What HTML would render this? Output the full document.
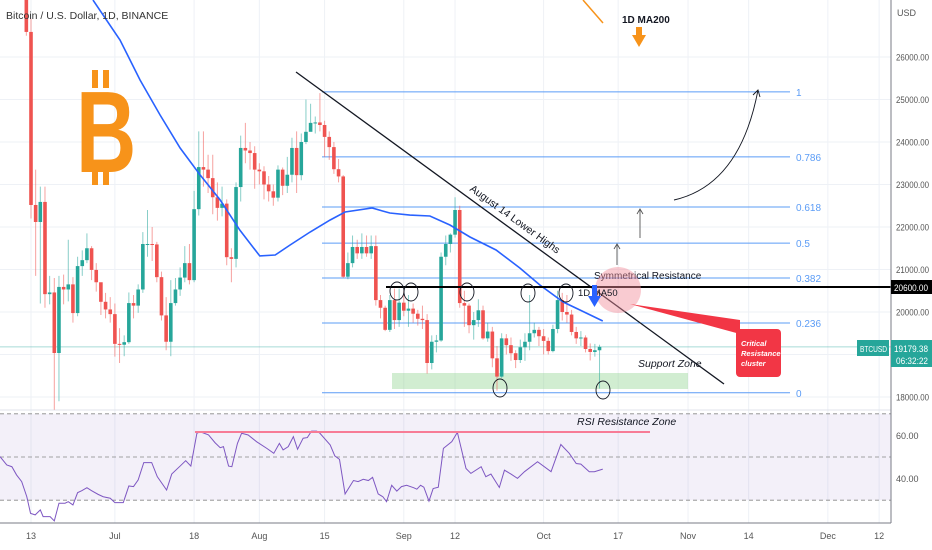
<!DOCTYPE html>
<html><head><meta charset="utf-8"><style>
html,body{margin:0;padding:0;background:#fff;}
body{position:relative;width:932px;height:550px;overflow:hidden}
svg{display:block;font-family:"Liberation Sans",sans-serif;}
</style></head><body>
<svg id="chart" width="932" height="550" viewBox="0 0 932 550"></svg>
<script>
// ---- data ----
const startDay = -1; // index of first candle relative to Jun 13
const firstOpen = 28400;
const closes = [26590,22518,22118,22590,20420,20460,19035,20590,20530,20650,19975,21080,21220,21500,20990,20700,20240,20060,19950,19250,19230,19290,20210,20150,20530,21600,21600,21590,20820,19920,19300,20210,20530,20810,21150,20750,22420,23410,23350,23150,22700,22450,22550,21290,21250,22940,23860,23800,23740,23350,23310,23000,22840,22690,23350,22970,23230,23860,23220,24000,24240,24450,24460,24400,24120,23880,23360,23190,20830,21150,21530,21380,21530,21380,21550,20280,20100,19580,20280,19810,20220,20030,20080,19960,19840,19810,18800,19300,19330,21300,21600,21820,22400,20210,20150,19690,19810,20040,19380,19540,18910,18480,19380,19220,19030,18870,19170,19300,19500,19580,19430,19320,19080,19600,20280,20000,19940,19530,19380,19400,19130,19060,19100,19179];
const highs = [28600,26900,23350,22950,22950,20850,20800,20850,20880,21700,20820,21300,21450,21850,21550,21150,20450,20450,20350,20200,19620,19450,20460,20400,20650,21880,22400,22000,21650,20950,20350,20750,20800,21050,21550,21600,22850,24250,24250,23700,23700,23050,22950,22650,21500,23050,24150,24450,24000,23900,23500,23430,23200,23000,23450,23400,23650,24100,24250,24200,25000,24900,24600,25150,24500,24250,24000,23600,23220,21400,21800,21700,21850,21800,21800,21800,20400,20150,20400,20550,20550,20500,20400,20200,20050,20150,19950,19450,19460,21400,21800,21850,22700,22500,20500,20200,20000,20300,20150,19750,19650,19200,19500,19480,19400,19100,19350,19500,20400,19750,19650,19600,19400,19700,20500,20450,20400,20050,19650,19550,19450,19260,19250,19230];
const lows = [26500,22200,20850,20200,20100,20180,17700,17900,20180,20250,19750,19900,20850,21150,20750,20480,19930,19850,19750,18950,18800,18960,19250,19850,19980,20450,21300,21200,20700,19800,19100,18960,20150,20380,20700,20650,20700,22270,22950,22800,22300,22150,22250,21100,20700,21050,22600,23500,23350,22900,23000,22650,22600,22500,22600,22750,22800,23050,22800,23100,23950,24300,24200,24250,23650,23580,23250,23050,20800,20770,21050,21250,21250,21300,21250,20150,19850,19550,19530,19600,19650,19900,19650,19750,19680,19600,18550,18650,19050,19300,21100,21400,21750,20100,19650,19500,19350,19650,19350,19300,18700,18150,18450,19000,18850,18680,18800,18850,19100,19400,19200,19000,19000,19050,19500,19800,19750,19450,19250,19200,19050,18860,18950,18200];
const maDays = [13.3,19.1,23.4,27.7,32.0,36.3,40.6,44.8,49.1,52.4,55.6,59.9,64.2,67.4,73.2,77.0,81.3,85.6,89.9,94.2,99.8,104.9,109.2,114.2,117.8,122.7];
const maValues = [27341,26400,25459,24635,23859,23224,22635,21929,21318,21341,21576,21882,22165,22353,22447,22329,22282,22259,22047,21765,21459,21035,20635,20235,20047,19788];
const rsiDays = [-6.65,-5.2,-4.1,-3.1,-2.0,-0.9,-0.1,0.9,2.0,2.6,4.1,5.0,6.0,7.3,8.0,9.0,10.0,10.9,12.0,13.0,14.4,15.5,17.0,18.0,19.8,21.0,22.0,23.0,24.2,25.9,27.1,29.1,30.2,32.0,33.2,34.3,35.6,36.3,38.1,39.5,40.6,41.3,42.4,43.1,44.3,45.2,46.6,48.4,50.6,52.1,53.3,54.1,55.2,56.3,57.2,58.4,59.3,60.2,61.3,62.0,64.2,65.2,66.2,67.4,69.2,70.2,71.3,72.4,73.3,74.5,75.5,76.3,77.4,78.5,79.5,80.6,82.1,82.8,83.6,84.3,85.4,86.3,87.4,88.5,90.3,91.5,93.35,94.4,96.6,97.6,98.7,100.5,101.6,103.0,104.4,105.9,108.7,111.6,113.7,115.5,117.0,118.0,119.8,120.9,122.7];
const rsiValues = [50.2,46.3,45.5,41.7,38.6,31.6,23.9,23.2,25.5,22.4,22.4,20.4,28.6,28.6,29.3,27.8,33.5,34.4,35.8,34.4,32.7,31.6,30.9,28.9,28.9,36.6,36.3,39.4,47.4,47.4,40.9,34.7,42.1,45.8,48.3,45.8,61.0,61.7,60.2,56.6,54.3,54.8,45.8,45.5,56.3,61.0,60.2,57.1,54.0,51.7,56.3,53.3,54.8,59.4,53.6,58.7,59.0,62.0,62.0,61.0,55.6,50.5,48.9,32.9,39.1,38.6,39.7,39.1,40.6,32.9,31.6,29.3,36.9,34.2,36.3,36.9,35.8,35.1,36.9,36.0,29.6,35.4,36.0,54.0,57.1,61.4,44.7,42.4,45.5,40.9,42.1,35.9,43.9,42.1,40.1,43.2,47.8,43.2,55.8,51.7,47.0,46.7,43.2,43.2,44.4];
const priceTicks = [26000,25000,24000,23000,22000,21000,20000,18000];
const rsiTicks = [60,40];
const timeLabels = ["13","Jul","18","Aug","15","Sep","12","Oct","17","Nov","14","Dec","12"];
const timeDays = [0,18,35,49,63,80,91,110,126,141,154,171,182];
const fibLabels = ["1","0.786","0.618","0.5","0.382","0.236","0"];
const fibPrices = [25180,23650,22470,21620,20800,19740,18100];

// ---- axes ----
const xOf = d => 31 + d*4.66;
const yOf = p => 312 - (p-20000)*0.0425;
const yR = r => 457 - (r-50)*2.16;
const NS='http://www.w3.org/2000/svg';
const svg=document.getElementById('chart');
function mk(tag, attrs, parent){const e=document.createElementNS(NS,tag);for(const k in attrs)e.setAttribute(k,attrs[k]);(parent||svg).appendChild(e);return e;}
function txt(s,attrs,parent){const e=mk('text',attrs,parent);e.textContent=s;return e;}

const grid=mk('g',{});


timeDays.forEach(d=>mk('line',{x1:xOf(d),x2:xOf(d),y1:0,y2:523,stroke:'#eef1f6','stroke-width':1},grid));
[26000,25000,24000,23000,22000,21000,20000,19000,18000].forEach(p=>mk('line',{x1:0,x2:891,y1:yOf(p),y2:yOf(p),stroke:'#eef1f6'},grid));
mk('line',{x1:0,x2:891,y1:410,y2:410,stroke:'#e0e3eb'},grid);

const rp=mk('rect',{x:0,y:yR(70),width:891,height:yR(30)-yR(70),fill:'#7e57c2','fill-opacity':0.09});


[70,50,30].forEach(r=>mk('line',{x1:0,x2:891,y1:yR(r),y2:yR(r),stroke:'#888','stroke-dasharray':'4,3','stroke-width':0.8}));

fibPrices.forEach((p,i)=>{
  const l=mk('line',{x1:322,x2:790,y1:yOf(p),y2:yOf(p),stroke:'#5b9cf6','stroke-width':1});
  
  
  const t=txt(fibLabels[i],{x:796,y:yOf(p)+4,fill:'#5b9cf6','font-size':10});
  
  
});

mk('line',{x1:0,x2:891,y1:yOf(19179),y2:yOf(19179),stroke:'#26a69a','stroke-opacity':0.4,'stroke-width':1});

const sz=mk('rect',{x:392,y:373,width:296,height:16,fill:'#8bd18b','fill-opacity':0.4});



const cg=mk('g',{});


closes.forEach((c,i)=>{
  const o = i===0?firstOpen:closes[i-1];
  const d = startDay+i, x=xOf(d);
  const col = c>=o?'#26a69a':'#ef5350';
  mk('line',{x1:x,x2:x,y1:yOf(highs[i]),y2:yOf(lows[i]),stroke:col,'stroke-opacity':0.55,'stroke-width':1},cg);
  const top=yOf(Math.max(o,c)), bot=yOf(Math.min(o,c));
  const b=mk('rect',{x:x-1.8,y:top,width:3.6,height:Math.max(1,bot-top),fill:col},cg);
  
  
});

const maPts=maDays.map((d,i)=>xOf(d)+','+yOf(maValues[i])).join(' ');
const ma=mk('polyline',{points:maPts,fill:'none',stroke:'#2962ff','stroke-width':1.6});



const rsiPts=rsiDays.map((d,i)=>xOf(d)+','+yR(rsiValues[i])).join(' ');
const rl=mk('polyline',{points:rsiPts,fill:'none',stroke:'#7e57c2','stroke-width':1});


</script>
<svg width="932" height="550" style="position:absolute;left:0;top:0" font-family="Liberation Sans, sans-serif">
  <text x="6" y="19" font-size="10.5" fill="#333">Bitcoin / U.S. Dollar, 1D, BINANCE</text>
  <g fill="#f7931a">
    <rect x="92" y="70" width="6" height="18"/><rect x="103" y="70" width="6" height="18"/>
    <rect x="92" y="168" width="6" height="17"/><rect x="103" y="168" width="6" height="17"/>
    <text transform="translate(76,172) scale(0.72,1)" font-size="116" font-weight="bold">B</text>
  </g>
  <line x1="583" y1="0" x2="603" y2="23" stroke="#f7931a" stroke-width="1.5"/>
  <text x="622" y="23" font-size="10" fill="#131722" font-weight="bold">1D MA200</text>
  <path d="M636 27h6v8h4l-7 12l-7-12h4z" fill="#f7931a"/>
  <line x1="296" y1="72" x2="724" y2="384" stroke="#131722" stroke-width="1.3"/>
  <text transform="translate(513,222) rotate(36)" text-anchor="middle" font-size="10.5" fill="#131722">August 14 Lower Highs</text>
  <line x1="386" y1="287" x2="891" y2="287" stroke="#000" stroke-width="2"/>
  <text x="594" y="279" font-size="10" fill="#131722">Symmetrical Resistance</text>
  <g fill="none" stroke="#131722" stroke-width="0.9">
    <ellipse cx="397" cy="291" rx="7" ry="9"/><ellipse cx="411" cy="292" rx="7" ry="9"/>
    <ellipse cx="467" cy="292" rx="7" ry="9"/><ellipse cx="528" cy="293" rx="7" ry="9"/>
    <ellipse cx="566" cy="293" rx="7" ry="9"/><ellipse cx="500" cy="388" rx="7" ry="9"/>
    <ellipse cx="603" cy="390" rx="7" ry="9"/>
  </g>
  <circle cx="618" cy="290" r="23" fill="#f28c9a" fill-opacity="0.45"/>
  <path d="M630 304 L740 320 L740 334 Z" fill="#f23645"/>
  <rect x="736" y="329" width="45" height="48" rx="4" fill="#f23645"/>
  <text font-size="7.5" fill="#fff" font-style="italic" font-weight="bold"><tspan x="741" y="346">Critical</tspan><tspan x="741" y="356">Resistance</tspan><tspan x="741" y="366">cluster</tspan></text>
  <text x="578" y="296" font-size="9.5" fill="#131722">1D MA50</text>
  <path d="M592 285h5v11h4l-6.5 11l-6.5-11h4z" fill="#2962ff"/>
  <text x="638" y="367" font-size="10.5" font-style="italic" fill="#131722">Support Zone</text>
  <g stroke="#555" fill="none" stroke-width="0.9">
    <line x1="640" y1="238" x2="640" y2="210"/><path d="M637 214l3-5l3 5"/>
    <line x1="617" y1="265" x2="617" y2="245"/><path d="M614 249l3-5l3 5"/>
    <path d="M674 200 Q740 185 758 90" stroke="#131722"/><path d="M753 95l5-5l2 7" stroke="#131722"/>
  </g>
  <line x1="195" y1="432" x2="650" y2="432" stroke="#f77c96" stroke-width="2"/>
  <text x="577" y="425" font-size="10.5" font-style="italic" fill="#131722">RSI Resistance Zone</text>
  <line x1="891" y1="0" x2="891" y2="523" stroke="#787b86" stroke-width="1"/>
  <line x1="0" y1="523" x2="891" y2="523" stroke="#787b86" stroke-width="1"/>
  <text x="897" y="16" font-size="9" fill="#555">USD</text>
  <g id="axes" font-size="9" fill="#555"></g>
  <rect x="891" y="280" width="41" height="14" fill="#000"/>
  <text x="894" y="291" font-size="9" fill="#fff" textLength="34" lengthAdjust="spacingAndGlyphs">20600.00</text>
  <rect x="857" y="340" width="32" height="16" fill="#26a69a"/>
  <text x="860" y="352" font-size="8.5" fill="#fff" textLength="27" lengthAdjust="spacingAndGlyphs">BTCUSD</text>
  <rect x="891" y="340" width="41" height="27" fill="#26a69a"/>
  <text x="894" y="352" font-size="9" fill="#fff" textLength="34" lengthAdjust="spacingAndGlyphs">19179.38</text>
  <text x="896" y="364" font-size="9" fill="#fff" textLength="32" lengthAdjust="spacingAndGlyphs">06:32:22</text>
</svg>
<script>
const ax=document.getElementById('axes');
priceTicks.forEach(p=>{const t=document.createElementNS(NS,'text');t.setAttribute('x',896);t.setAttribute('y',yOf(p)+3.5);t.setAttribute('textLength',33);t.setAttribute('lengthAdjust','spacingAndGlyphs');t.textContent=p.toFixed(2);


ax.appendChild(t);});
rsiTicks.forEach(r=>{const t=document.createElementNS(NS,'text');t.setAttribute('x',896);t.setAttribute('y',yR(r)+3.5);t.textContent=r.toFixed(2);


ax.appendChild(t);});
timeLabels.forEach((s,i)=>{const t=document.createElementNS(NS,'text');t.setAttribute('x',xOf(timeDays[i]));t.setAttribute('y',539);t.setAttribute('text-anchor','middle');t.textContent=s;


ax.appendChild(t);});
</script>
</body></html>
